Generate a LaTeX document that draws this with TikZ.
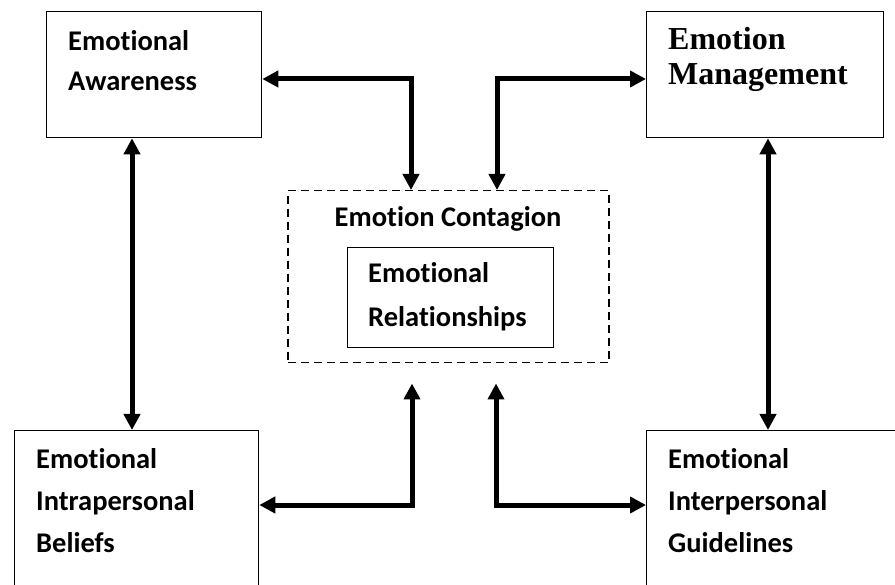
\documentclass[tikz,border=0pt]{standalone}
\usepackage{fontspec}
\setmainfont{Carlito}[Ligatures=NoCommon]
\newfontfamily\tnrfont{Liberation Serif}
\usetikzlibrary{arrows.meta}
\begin{document}
\begin{tikzpicture}[x=1pt,y=-1pt,
  box/.style={draw, line width=1.3pt, rectangle, inner sep=0pt, anchor=north west},
  lbl/.style={anchor=base west, inner sep=0pt, font=\fontsize{28.5}{40}\selectfont\bfseries, align=left},
  lblb/.style={anchor=base west, inner sep=0pt, font=\fontsize{28.5}{42}\selectfont\bfseries, align=left},
  lbls/.style={anchor=base west, inner sep=0pt, font=\tnrfont\fontsize{32}{35}\selectfont\bfseries, align=left},
  link/.style={line width=5pt, {Triangle[length=16pt,width=16pt]}-{Triangle[length=16pt,width=16pt]}}
]
\useasboundingbox (0,0) rectangle (895,585);
% boxes
\node[box, minimum width=215pt, minimum height=126pt] (aw) at (46,11) {};
\node[box, minimum width=237pt, minimum height=126pt] (mg) at (646,11) {};
\node[box, line width=1.5pt, dash pattern=on 8pt off 5pt, minimum width=321pt, minimum height=172pt] (ec) at (287,190) {};
\node[box, minimum width=206pt, minimum height=100pt] (er) at (347,247) {};
\node[box, minimum width=244pt, minimum height=180pt] (ib) at (14,430) {};
\node[box, minimum width=270pt, minimum height=180pt] (ig) at (646,430) {};
% labels (anchored at the baseline of the last line)
\node[lbl] (t1) at (68,91) {Emotional\\Awareness};
\node[lbls] (t2) at (668,85) {Emotion\\Management};
\node[lblb] (t3) at (36,552) {Emotional\\Intrapersonal\\Beliefs};
\node[lblb] (t4) at (668,552) {Emotional\\Interpersonal\\Guidelines};
\node[anchor=base, inner sep=0pt, font=\fontsize{28.5}{40}\selectfont\bfseries] (t5) at (448,227) {Emotion Contagion};
\node[anchor=base west, inner sep=0pt, font=\fontsize{28.5}{44}\selectfont\bfseries, align=left] (t6) at (368,327) {Emotional\\Relationships};
% connectors
\draw[link] ([yshift=-68pt]aw.north east) -| ([xshift=124pt]ec.north west);
\draw[link] ([yshift=-68pt]mg.north west) -| ([xshift=210pt]ec.north west);
\draw[link] ([xshift=86pt]aw.south west) -- ([xshift=118pt]ib.north west);
\draw[link] ([xshift=122pt]mg.south west) -- ([xshift=122pt]ig.north west);
\coordinate (c1) at ([xshift=125pt,yshift=-20pt]ec.south west);
\coordinate (c2) at ([xshift=209pt,yshift=-20pt]ec.south west);
\draw[link] (c1) |- ([yshift=-75pt]ib.north east);
\draw[link] (c2) |- ([yshift=-75pt]ig.north west);
\end{tikzpicture}
\end{document}
